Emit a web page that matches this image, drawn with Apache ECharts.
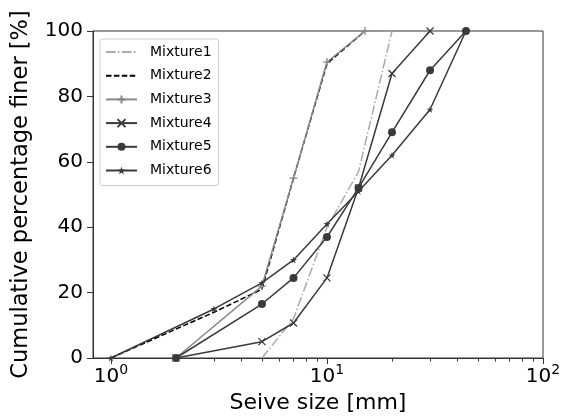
<!DOCTYPE html>
<html>
<head>
<meta charset="utf-8">
<script src="https://cdn.jsdelivr.net/npm/echarts@6/dist/echarts.min.js"></script>
<style>
html, body { margin: 0; padding: 0; background: #fff; }
#chart { width: 563px; height: 417px; }
</style>
</head>
<body>
<div id="chart"></div>
<script>
// sieve sizes [mm] and percentage passing for each mixture
var names = ['Mixture1', 'Mixture2', 'Mixture3', 'Mixture4', 'Mixture5', 'Mixture6'];
var sizes1 = [5, 7, 10, 14, 20];
var finer1 = [0, 12, 40, 57, 100];
var sizes2 = [1, 3, 5, 7, 10, 15];
var finer2 = [0, 14, 21, 55, 90, 100];
var sizes3 = [2, 5, 7, 10, 15];
var finer3 = [0, 22, 55, 90.5, 100];
var sizes4 = [2, 5, 7, 10, 14, 20, 30];
var finer4 = [0, 5, 10.7, 24.5, 52, 87, 100];
var sizes5 = [2, 5, 7, 10, 14, 20, 30, 44];
var finer5 = [0, 16.5, 24.5, 37, 52, 69, 88, 100];
var sizes6 = [1, 3, 5, 7, 10, 14, 20, 30, 44];
var finer6 = [0, 15, 23, 30, 41, 51, 62, 76, 100];

var majorTicks = [1, 10, 100];
var minorTicks = [2, 3, 4, 5, 6, 7, 8, 9, 20, 30, 40, 50, 60, 70, 80, 90];
var yTicks = [0, 20, 40, 60, 80, 100];

var font = 'DejaVu Sans';
var plusPath = 'path://M0,5L10,5M5,0L5,10';
var crossPath = 'path://M0,0L10,10M10,0L0,10';
var starPath = 'path://M5,0L6.2,3.6L10,3.6L6.9,5.8L8.1,9.5L5,7.2L1.9,9.5L3.1,5.8L0,3.6L3.8,3.6Z';

function pairs(xs, ys) {
    var out = [];
    for (var i = 0; i < xs.length; i++) out.push([xs[i], ys[i]]);
    return out;
}

function makeSeries(name, data, color, dash, symbol, size, stroke) {
    return {
        name: name,
        type: 'line',
        data: data,
        xAxisIndex: 0,
        symbol: symbol,
        symbolSize: size,
        showSymbol: symbol !== 'none',
        lineStyle: { color: color, width: 1.5, type: dash },
        itemStyle: stroke
            ? { color: 'rgba(0,0,0,0)', borderColor: color, borderWidth: 1.3 }
            : { color: color, borderWidth: 0 },
        emphasis: { disabled: true },
        z: 2
    };
}

// legend entries: plain lines get no marker
var legendData = names.map(function (n, i) {
    if (i < 2) {
        return { name: n, itemStyle: { color: 'rgba(0,0,0,0)', borderWidth: 0, opacity: 0 } };
    }
    return { name: n };
});

var chart = echarts.init(document.getElementById('chart'), null, { renderer: 'canvas' });

var option = {
    animation: false,
    textStyle: { fontFamily: font },
    grid: {
        left: 93, right: 20, top: 31, bottom: 59,
        outerBoundsMode: 'none',
        containLabel: false,
        show: true, borderColor: '#333', borderWidth: 1
    },
    legend: {
        data: legendData,
        orient: 'vertical',
        left: 100, top: 39,
        itemWidth: 31, itemHeight: 10, itemGap: 9.7,
        padding: [6, 7, 8, 5],
        borderColor: '#ccc', borderWidth: 1, borderRadius: 3,
        backgroundColor: 'rgba(255,255,255,0.8)',
        textStyle: { fontFamily: font, fontSize: 14, color: '#000', padding: [0, 0, 0, 8] }
    },
    xAxis: [{
        type: 'log',
        logBase: 10,
        min: 0.826,
        max: 100,
        position: 'bottom',
        name: 'Seive size [mm]',
        nameLocation: 'middle',
        nameGap: 32,
        nameTextStyle: { fontFamily: font, fontSize: 22, color: '#000' },
        axisLine: { lineStyle: { color: '#333', width: 1 } },
        axisTick: { customValues: majorTicks, length: 6, lineStyle: { color: '#333' } },
        axisLabel: {
            customValues: majorTicks,
            margin: 5,
            color: '#000',
            formatter: function (v) {
                return '{b|10}{s|' + Math.round(Math.log(v) / Math.LN10) + '}';
            },
            rich: {
                b: { fontFamily: font, fontSize: 20, color: '#000', lineHeight: 22, padding: [6, 0, 0, 0] },
                s: { fontFamily: font, fontSize: 14, color: '#000', verticalAlign: 'top', lineHeight: 14 }
            }
        },
        splitLine: { show: false },
        minorTick: { show: false }
    }, {
        type: 'log',
        logBase: 10,
        min: 0.826,
        max: 100,
        position: 'bottom',
        axisLine: { show: false },
        axisTick: { customValues: minorTicks, length: 3.5, lineStyle: { color: '#333' } },
        axisLabel: { show: false },
        splitLine: { show: false }
    }],
    yAxis: {
        type: 'value',
        min: 0,
        max: 100,
        interval: 20,
        name: 'Cumulative percentage finer [%]',
        nameLocation: 'middle',
        nameGap: 60,
        nameTextStyle: { fontFamily: font, fontSize: 22.5, color: '#000' },
        axisLine: { show: true, lineStyle: { color: '#333', width: 1 } },
        axisTick: { show: true, length: 6, lineStyle: { color: '#333' } },
        axisLabel: {
            margin: 10, color: '#000', fontFamily: font, fontSize: 20,
            formatter: function (v) { return yTicks.indexOf(v) >= 0 ? String(v) : ''; }
        },
        splitLine: { show: false }
    },
    series: [
        makeSeries(names[0], pairs(sizes1, finer1), '#aaaaaa', [9.6, 2.4, 1.5, 2.4], 'none', 0, false),
        makeSeries(names[1], pairs(sizes2, finer2), '#000000', [5.5, 2.4], 'none', 0, false),
        makeSeries(names[2], pairs(sizes3, finer3), '#888888', 'solid', plusPath, 8, true),
        makeSeries(names[3], pairs(sizes4, finer4), '#3a3a3a', 'solid', crossPath, 7, true),
        makeSeries(names[4], pairs(sizes5, finer5), '#3a3a3a', 'solid', 'circle', 8, false),
        makeSeries(names[5], pairs(sizes6, finer6), '#3a3a3a', 'solid', starPath, 7, false)
    ]
};

chart.setOption(option);
</script>
</body>
</html>
